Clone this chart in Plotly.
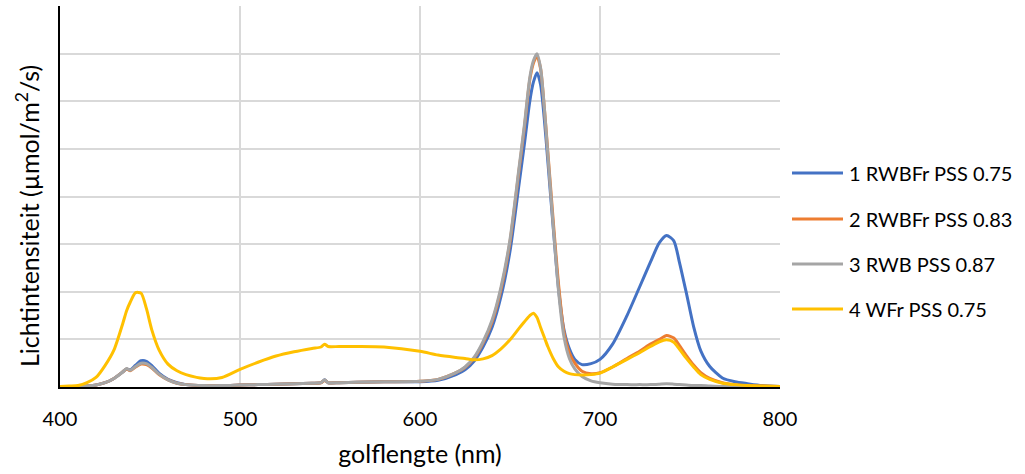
import plotly.graph_objects as go

# Wavelengths (nm) at which the spectra are sampled
wavelength = [400, 405, 410, 415, 420, 425, 430, 435, 437, 439, 442, 445, 448, 451, 455,
              460, 465, 470, 480, 490, 500, 510, 520, 530, 540, 545, 547, 549, 555, 565,
              580, 600, 610, 620, 625, 630, 635, 640, 645, 650, 655, 658, 661, 663, 665,
              667, 669, 671, 674, 677, 680, 683, 686, 690, 695, 700, 707, 715, 722, 728,
              733, 737, 741, 744, 748, 752, 756, 761, 768, 775, 782, 790, 800]

rwbfr_075 = [0.0, 0.0, 0.01, 0.02, 0.04, 0.09, 0.18, 0.32, 0.38, 0.36, 0.46, 0.55, 0.54, 0.45, 0.29,
             0.16, 0.09, 0.05, 0.03, 0.03, 0.04, 0.05, 0.06, 0.07, 0.08, 0.09, 0.15, 0.09, 0.09, 0.1,
             0.11, 0.11, 0.14, 0.26, 0.36, 0.54, 0.84, 1.25, 1.9, 2.85, 4.25, 5.1, 6.0, 6.4, 6.6,
             6.35, 5.65, 4.75, 3.35, 2.05, 1.2, 0.8, 0.58, 0.47, 0.49, 0.58, 0.9, 1.5, 2.1, 2.62,
             3.03, 3.18, 3.07, 2.64, 1.97, 1.27, 0.76, 0.43, 0.19, 0.11, 0.07, 0.03, 0.01]

rwbfr_083 = [0.0, 0.0, 0.01, 0.02, 0.04, 0.09, 0.18, 0.32, 0.38, 0.34, 0.42, 0.48, 0.47, 0.4, 0.26,
             0.15, 0.08, 0.05, 0.03, 0.03, 0.04, 0.05, 0.06, 0.07, 0.08, 0.09, 0.14, 0.09, 0.09, 0.1,
             0.11, 0.12, 0.16, 0.3, 0.41, 0.6, 0.92, 1.36, 2.05, 3.05, 4.55, 5.45, 6.45, 6.8, 6.95,
             6.68, 5.9, 4.95, 3.5, 2.15, 1.15, 0.72, 0.5, 0.33, 0.28, 0.3, 0.42, 0.6, 0.75, 0.9,
             1.0, 1.08, 1.03, 0.88, 0.66, 0.46, 0.3, 0.18, 0.09, 0.05, 0.03, 0.02, 0.01]

rwb_087 = [0.0, 0.0, 0.01, 0.02, 0.04, 0.09, 0.18, 0.32, 0.39, 0.35, 0.43, 0.5, 0.49, 0.41, 0.27,
           0.15, 0.08, 0.05, 0.03, 0.03, 0.04, 0.05, 0.06, 0.07, 0.08, 0.09, 0.15, 0.09, 0.09, 0.1,
           0.11, 0.12, 0.16, 0.3, 0.42, 0.62, 0.95, 1.4, 2.1, 3.1, 4.6, 5.5, 6.5, 6.85, 7.0,
           6.7, 5.9, 4.9, 3.4, 2.0, 1.05, 0.6, 0.38, 0.22, 0.13, 0.09, 0.06, 0.05, 0.05, 0.05,
           0.06, 0.07, 0.06, 0.05, 0.04, 0.03, 0.03, 0.02, 0.01, 0.01, 0.0, 0.0, 0.0]

wfr_075 = [0.01, 0.02, 0.03, 0.09, 0.2, 0.45, 0.78, 1.35, 1.6, 1.78, 1.98, 1.97, 1.65, 1.2, 0.78,
           0.48, 0.34, 0.26, 0.18, 0.2, 0.37, 0.52, 0.65, 0.74, 0.81, 0.84, 0.9, 0.85, 0.85, 0.85,
           0.84, 0.75, 0.67, 0.62, 0.6, 0.57, 0.59, 0.66, 0.8, 0.99, 1.23, 1.37, 1.5, 1.55, 1.46,
           1.25, 1.05, 0.85, 0.6, 0.42, 0.33, 0.28, 0.26, 0.25, 0.26, 0.29, 0.42, 0.58, 0.72, 0.85,
           0.95, 0.99, 0.94, 0.8, 0.6, 0.42, 0.26, 0.16, 0.08, 0.05, 0.03, 0.02, 0.01]

series_names = ["1 RWBFr PSS 0.75", "2 RWBFr PSS 0.83", "3 RWB PSS 0.87", "4 WFr PSS 0.75"]
series_values = [rwbfr_075, rwbfr_083, rwb_087, wfr_075]
series_colors = ["#4472C4", "#ED7D31", "#A5A5A5", "#FFC000"]

x_ticks = [400, 500, 600, 700, 800]

FONT = "Lato"
W, H = 1025, 474
L, R, T, B = 60, 245, 6, 87
plot_w = W - L - R
plot_h = H - T - B

fig = go.Figure()
for name, vals, col in zip(series_names, series_values, series_colors):
    fig.add_trace(go.Scatter(
        x=wavelength, y=vals, name=name, mode="lines",
        line=dict(color=col, width=3, shape="spline", smoothing=0.7),
        showlegend=False,
    ))

# Legend drawn as key lines plus labels to the right of the plot area
def px_to_paper_x(px):
    return (px - L) / plot_w

def px_to_paper_y(py):
    return (H - B - py) / plot_h

legend_rows = [173, 219, 264, 309]
shapes = []
annotations = []
for name, col, ry in zip(series_names, series_colors, legend_rows):
    shapes.append(dict(type="line", xref="paper", yref="paper",
                       x0=px_to_paper_x(792), x1=px_to_paper_x(843),
                       y0=px_to_paper_y(ry), y1=px_to_paper_y(ry),
                       line=dict(color=col, width=3)))
    annotations.append(dict(text=name, xref="paper", yref="paper",
                            x=px_to_paper_x(847), y=px_to_paper_y(ry),
                            xanchor="left", yanchor="middle", showarrow=False,
                            font=dict(family=FONT, size=20, color="#000000")))

annotations.append(dict(text="Lichtintensiteit (µmol/m<sup>2</sup>/s)", xref="paper", yref="paper",
                        x=px_to_paper_x(27), y=px_to_paper_y(216), textangle=-90,
                        xanchor="center", yanchor="middle", showarrow=False,
                        font=dict(family=FONT, size=25, color="#000000")))

fig.update_layout(
    width=W, height=H,
    margin=dict(l=L, r=R, t=T, b=B),
    paper_bgcolor="white", plot_bgcolor="white",
    font=dict(family=FONT, size=20, color="#000000"),
    shapes=shapes, annotations=annotations,
    showlegend=False,
)
fig.update_xaxes(
    range=[400, 800], tickvals=x_ticks, ticktext=[str(v) for v in x_ticks],
    showgrid=True, gridcolor="#D9D9D9", gridwidth=1.5,
    showline=True, linecolor="#000000", linewidth=2,
    ticks="outside", ticklen=13, tickcolor="rgba(0,0,0,0)",
    zeroline=False,
    title=dict(text="golflengte (nm)", font=dict(family=FONT, size=25), standoff=16),
)
fig.update_yaxes(
    range=[0, 8], dtick=1, showticklabels=False,
    showgrid=True, gridcolor="#D9D9D9", gridwidth=1.5,
    showline=True, linecolor="#000000", linewidth=2,
    zeroline=False,
)

fig.write_html("out.html")
